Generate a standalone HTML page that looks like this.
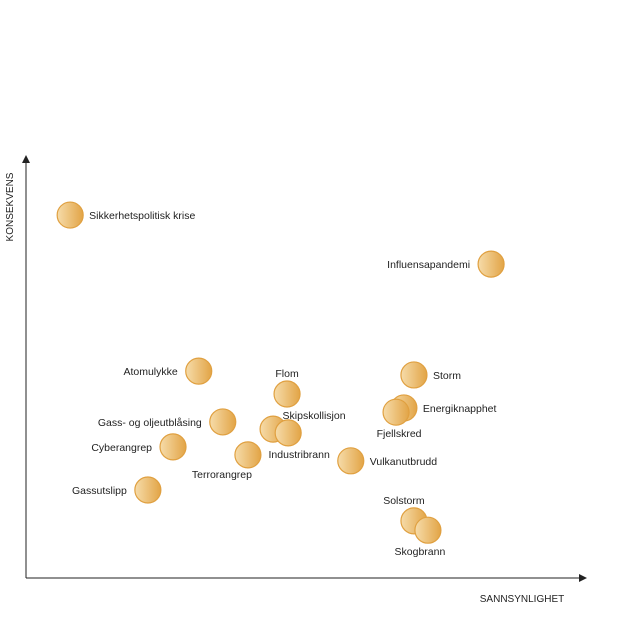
<!DOCTYPE html>
<html><head><meta charset="utf-8"><style>
body{margin:0;background:#fff}
svg{display:block;font-family:"Liberation Sans",Arial,sans-serif}
</style></head><body>
<svg id="chart" width="620" height="620">
<defs>
<linearGradient id="bg" x1="0" x2="1" y1="0" y2="0"><stop offset="0" stop-color="#f6dcaa"/><stop offset="1" stop-color="#e2a446"/></linearGradient>
<marker id="ar" markerWidth="8" markerHeight="8" refX="7" refY="4" orient="auto"><path d="M0,0 L8,4 L0,8 z" fill="#222"/></marker>
</defs>
<line x1="26" y1="578" x2="26" y2="156" stroke="#222" stroke-width="1" marker-end="url(#ar)"/>
<line x1="26" y1="578" x2="586" y2="578" stroke="#222" stroke-width="1" marker-end="url(#ar)"/>
<text x="13" y="207" font-size="10" text-anchor="middle" transform="rotate(-90 13 207)" fill="#222">KONSEKVENS</text>
<text x="522" y="602" font-size="10" text-anchor="middle" fill="#222">SANNSYNLIGHET</text>
<g id="pts"></g>
</svg>
<script>
const names=["Sikkerhetspolitisk krise","Influensapandemi","Atomulykke","Flom","Storm","Energiknapphet","Fjellskred","Gass- og oljeutblåsing","Skipskollisjon","Industribrann","Cyberangrep","Terrorangrep","Vulkanutbrudd","Gassutslipp","Solstorm","Skogbrann"];
const probability=[7.9,83.2,30.9,46.7,69.4,67.6,66.2,35.2,44.2,46.9,26.3,39.7,58.1,21.8,69.4,71.9];
const consequence=[85.8,74.2,48.9,43.5,48.0,40.2,39.2,36.9,35.2,34.3,31.0,29.1,27.7,20.8,13.5,11.3];
const labelPos=["r","l","l","t","r","r","b","l","t","b","l","bl","r","l","t","b"];
function xs(v){return 26+v*5.59;}
function ys(v){return 578-v*4.23;}
const g=document.getElementById('pts');
const NS="http://www.w3.org/2000/svg";
for(let i=0;i<names.length;i++){
  const cx=xs(probability[i]),cy=ys(consequence[i]);
  const c=document.createElementNS(NS,'circle');
  c.setAttribute('cx',cx);c.setAttribute('cy',cy);c.setAttribute('r',13);
  c.setAttribute('fill','url(#bg)');c.setAttribute('stroke','#e0a040');c.setAttribute('stroke-width','1.2');
  
  
  g.appendChild(c);
  const t=document.createElementNS(NS,'text');
  t.setAttribute('font-size','10.5');t.setAttribute('fill','#222');
  let tx=cx,ty=cy+4,a='middle';const p=labelPos[i];
  if(p==='r'){tx=cx+19;a='start';}
  else if(p==='l'){tx=cx-21;a='end';}
  else if(p==='t'){ty=cy-(i===8?10:17);tx=cx+(i===8?41:(i===14?-10:0));}
  else if(p==='b'){ty=cy+25;tx=cx+(i===9?11:(i===15?-8:3));}
  else if(p==='bl'){ty=cy+23;tx=cx-26;}
  t.setAttribute('x',tx);t.setAttribute('y',ty);t.setAttribute('text-anchor',a);
  t.textContent=names[i];
  
  
  g.appendChild(t);
}
</script>
</body></html>
